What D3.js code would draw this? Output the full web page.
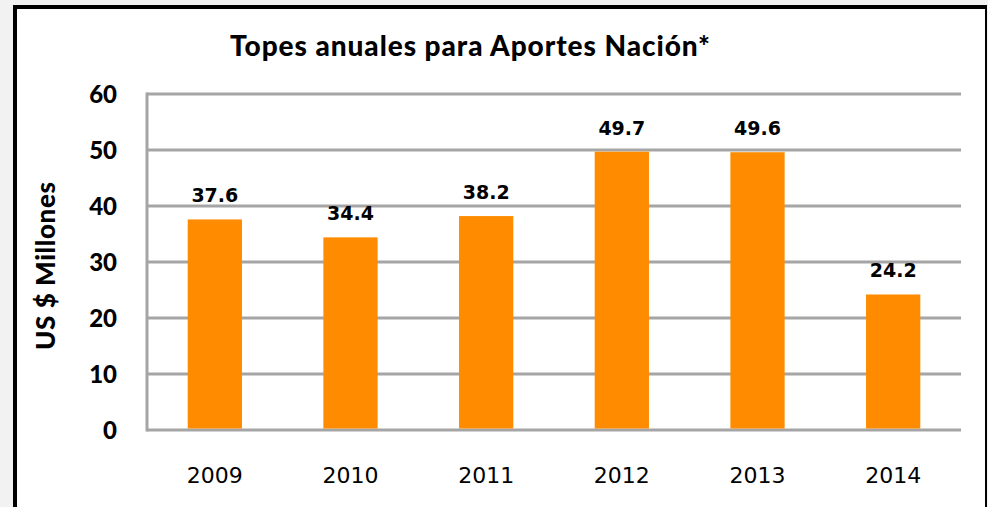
<!DOCTYPE html>
<html>
<head>
<meta charset="utf-8">
<script src="https://cdn.jsdelivr.net/npm/d3@7"></script>
<style>
  body { margin: 0; background: #f2f2f2; }
  svg { display: block; }
</style>
</head>
<body>
<div id="chart"></div>
<script>
// Data
const years = ["2009", "2010", "2011", "2012", "2013", "2014"];
const topes = [37.6, 34.4, 38.2, 49.7, 49.6, 24.2];
const yTicks = [0, 10, 20, 30, 40, 50, 60];

const W = 988, H = 507;
const svg = d3.select("#chart").append("svg").attr("width", W).attr("height", H);

// frame
svg.append("rect").attr("x", 15).attr("y", 7).attr("width", 971).attr("height", H)
  .attr("fill", "#fff");
svg.append("line").attr("x1", 13).attr("x2", 987).attr("y1", 7).attr("y2", 7)
  .attr("stroke", "#000").attr("stroke-width", 4);
svg.append("line").attr("x1", 15).attr("x2", 15).attr("y1", 5).attr("y2", H)
  .attr("stroke", "#000").attr("stroke-width", 4);
svg.append("line").attr("x1", 986).attr("x2", 986).attr("y1", 5).attr("y2", H)
  .attr("stroke", "#000").attr("stroke-width", 2);

const margin = { left: 147, right: 27, top: 94, bottom: 77 };
const x = d3.scaleBand().domain(years).range([margin.left, W - margin.right]).paddingInner(0.6).paddingOuter(0.3);
const y = d3.scaleLinear().domain([0, 60]).range([H - margin.bottom, margin.top]);

// gridlines
svg.append("g").selectAll("line").data(yTicks).join("line")
  .attr("x1", margin.left).attr("x2", W - margin.right)
  .attr("y1", d => y(d)).attr("y2", d => y(d))
  .attr("stroke", "#a5a5a5").attr("stroke-width", 3);
svg.append("line").attr("x1", margin.left).attr("x2", margin.left)
  .attr("y1", y(60) - 1.5).attr("y2", y(0) + 1.5)
  .attr("stroke", "#a5a5a5").attr("stroke-width", 3);

// bars
svg.append("g").selectAll("rect").data(topes).join("rect")
  .attr("x", (d, i) => x(years[i]))
  .attr("width", x.bandwidth())
  .attr("y", d => y(d))
  .attr("height", d => y(0) - 1.5 - y(d))
  .attr("fill", "#ff8c00");

// value labels
svg.append("g").selectAll("text").data(topes).join("text")
  .attr("x", (d, i) => x(years[i]) + x.bandwidth() / 2)
  .attr("y", d => y(d) - 17)
  .attr("text-anchor", "middle")
  .attr("font-family", "DejaVu Sans")
  .attr("font-weight", "bold")
  .attr("font-size", 19)
  .text(d => d.toFixed(1));

// y tick labels
svg.append("g").selectAll("text").data(yTicks).join("text")
  .attr("x", 117)
  .attr("y", d => y(d))
  .attr("dy", "0.36em")
  .attr("text-anchor", "end")
  .attr("font-family", "Lato")
  .attr("font-weight", 900)
  .attr("font-size", 24)
  .text(d => d);

// x tick labels
svg.append("g").selectAll("text").data(years).join("text")
  .attr("x", d => x(d) + x.bandwidth() / 2)
  .attr("y", 483)
  .attr("text-anchor", "middle")
  .attr("font-family", "DejaVu Sans")
  .attr("font-size", 22)
  .text(d => d);

// title
svg.append("text").attr("x", 470).attr("y", 56)
  .attr("text-anchor", "middle")
  .attr("font-family", "Lato")
  .attr("font-weight", 900)
  .attr("font-size", 28)
  .attr("textLength", 480)
  .attr("lengthAdjust", "spacing")
  .text("Topes anuales para Aportes Nación*");

// y axis title
svg.append("text")
  .attr("transform", "translate(55,266) rotate(-90)")
  .attr("text-anchor", "middle")
  .attr("font-family", "Lato")
  .attr("font-weight", 900)
  .attr("font-size", 26)
  .attr("textLength", 168)
  .attr("lengthAdjust", "spacing")
  .text("US $ Millones");
</script>
</body>
</html>
